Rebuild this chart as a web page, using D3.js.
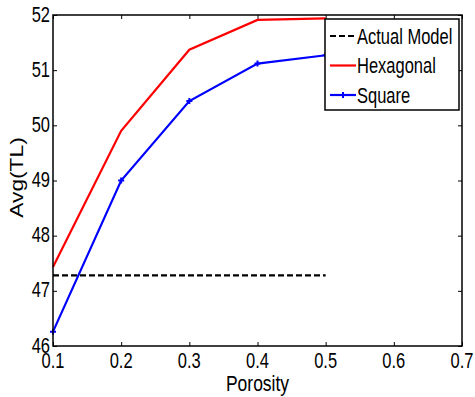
<!DOCTYPE html>
<html>
<head>
<meta charset="utf-8">
<script src="https://cdn.jsdelivr.net/npm/d3@7"></script>
<style>
  body { margin: 0; background: #fff; }
  text { font-family: Arial, "Liberation Sans", sans-serif; fill: #000; }
</style>
</head>
<body>
<div id="chart"></div>
<script>
const porosity = [0.1, 0.2, 0.3, 0.4, 0.5];
const hexagonal = [47.43, 49.9, 51.37, 51.91, 51.94];
const square = [46.26, 49.0, 50.44, 51.12, 51.27];
const actualModel = [47.28, 47.28];
const actualX = [0.1, 0.5];
const xTicks = [0.1, 0.2, 0.3, 0.4, 0.5, 0.6, 0.7];
const yTicks = [46, 47, 48, 49, 50, 51, 52];

const width = 475, height = 397;
const margin = { top: 15, right: 13, bottom: 51, left: 53 };
const w = width - margin.left - margin.right;
const h = height - margin.top - margin.bottom;
const stretch = 1.3; // text in the source is taller than it is wide

const svg = d3.select('#chart').append('svg')
  .attr('width', width)
  .attr('height', height);

const g = svg.append('g').attr('transform', `translate(${margin.left},${margin.top})`);

const x = d3.scaleLinear().domain([0.1, 0.7]).range([0, w]);
const y = d3.scaleLinear().domain([46, 52]).range([h, 0]);

// ticks inward on all four sides, labels drawn separately
const tickLen = 4;
g.append('g').attr('transform', `translate(0,${h})`)
  .call(d3.axisBottom(x).tickValues(xTicks).tickSize(-tickLen).tickFormat(''));
g.append('g')
  .call(d3.axisTop(x).tickValues(xTicks).tickSize(-tickLen).tickFormat(''));
g.append('g')
  .call(d3.axisLeft(y).tickValues(yTicks).tickSize(-tickLen).tickFormat(''));
g.append('g').attr('transform', `translate(${w},0)`)
  .call(d3.axisRight(y).tickValues(yTicks).tickSize(-tickLen).tickFormat(''));

g.selectAll('.domain').remove();
g.selectAll('.tick line').attr('stroke', '#000').attr('stroke-width', 1);

g.selectAll('.xlab')
  .data(xTicks)
  .join('text')
  .attr('class', 'xlab')
  .attr('transform', d => `translate(${x(d)},${h + 21.5}) scale(1,${stretch})`)
  .attr('text-anchor', 'middle')
  .attr('font-size', 16.5)
  .text(d3.format('.1f'));

g.selectAll('.ylab')
  .data(yTicks)
  .join('text')
  .attr('class', 'ylab')
  .attr('transform', d => `translate(-3,${y(d) + 6.5}) scale(1,${stretch})`)
  .attr('text-anchor', 'end')
  .attr('font-size', 16.5)
  .text(d3.format('d'));

const line = d3.line().x(d => x(d[0])).y(d => y(d[1]));

g.append('path')
  .datum(actualX.map((v, i) => [v, actualModel[i]]))
  .attr('d', line).attr('fill', 'none')
  .attr('stroke', '#000').attr('stroke-width', 2.2).attr('stroke-dasharray', '6,3');

g.append('path')
  .datum(porosity.map((v, i) => [v, hexagonal[i]]))
  .attr('d', line).attr('fill', 'none')
  .attr('stroke', '#ff0000').attr('stroke-width', 2.2);

g.append('path')
  .datum(porosity.map((v, i) => [v, square[i]]))
  .attr('d', line).attr('fill', 'none')
  .attr('stroke', '#0000ff').attr('stroke-width', 2.2);

const plus = 'M-3,0H3M0,-3V3';
g.selectAll('.sq-marker')
  .data(porosity.map((v, i) => [v, square[i]]))
  .join('path')
  .attr('class', 'sq-marker')
  .attr('transform', d => `translate(${x(d[0])},${y(d[1])})`)
  .attr('d', plus)
  .attr('stroke', '#0000ff').attr('stroke-width', 2);

g.append('rect')
  .attr('width', w).attr('height', h)
  .attr('fill', 'none').attr('stroke', '#000').attr('stroke-width', 1.5);

// axis labels
svg.append('text')
  .attr('transform', `translate(${margin.left + w / 2},391) scale(1,${stretch})`)
  .attr('text-anchor', 'middle').attr('font-size', 17.5)
  .text('Porosity');

svg.append('text')
  .attr('transform', `translate(23,${margin.top + h / 2 - 3}) scale(1,${stretch}) rotate(-90)`)
  .attr('text-anchor', 'middle').attr('font-size', 17.5)
  .text('Avg(TL)');

// legend
const legend = svg.append('g').attr('transform', 'translate(325,19)');
legend.append('rect')
  .attr('width', 134).attr('height', 91)
  .attr('fill', '#fff').attr('stroke', '#000').attr('stroke-width', 1.5);

const items = [
  { name: 'Actual Model', color: '#000', dash: '6,3', marker: false },
  { name: 'Hexagonal', color: '#ff0000', dash: null, marker: false },
  { name: 'Square', color: '#0000ff', dash: null, marker: true }
];
items.forEach((it, i) => {
  const row = legend.append('g').attr('transform', `translate(0,${17 + i * 29.5})`);
  row.append('line')
    .attr('x1', 5).attr('x2', 31)
    .attr('stroke', it.color).attr('stroke-width', 2.2)
    .attr('stroke-dasharray', it.dash);
  if (it.marker) {
    row.append('path').attr('transform', 'translate(18,0)').attr('d', plus)
      .attr('stroke', it.color).attr('stroke-width', 2);
  }
  row.append('text')
    .attr('transform', `translate(32,7.5) scale(1,${stretch})`)
    .attr('font-size', 16.5)
    .text(it.name);
});
</script>
</body>
</html>
